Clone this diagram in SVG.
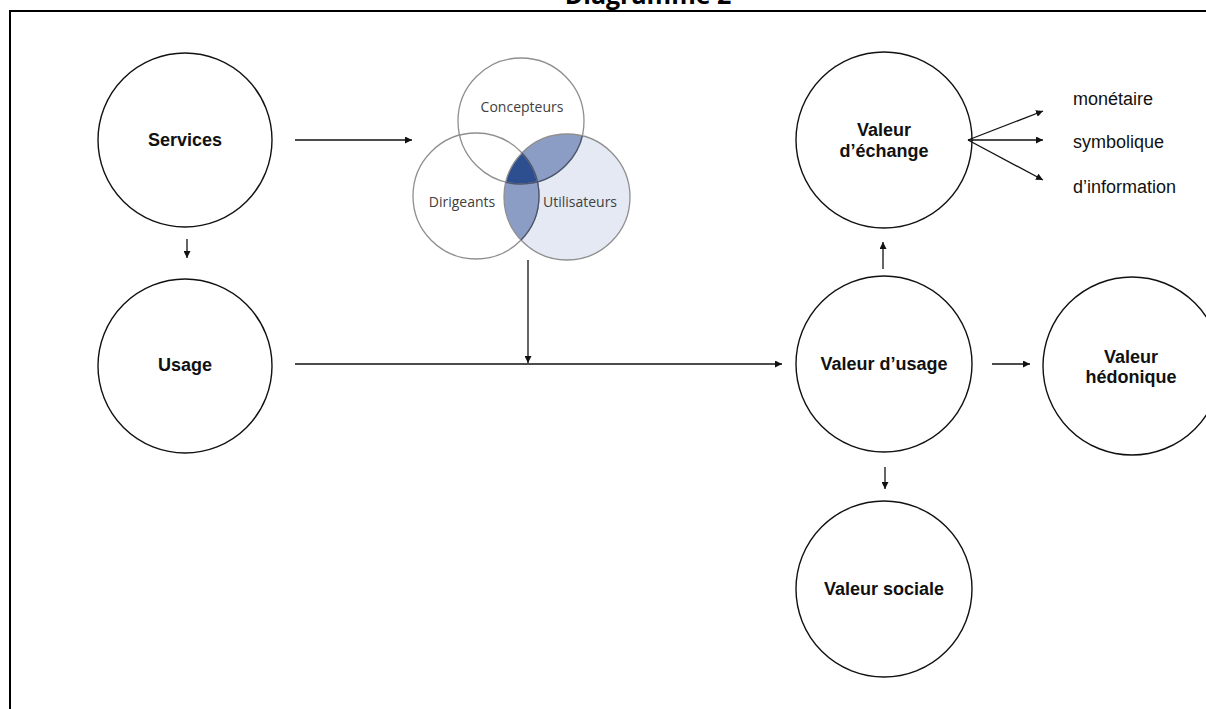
<svg xmlns="http://www.w3.org/2000/svg" width="1206" height="709" viewBox="0 0 1206 709">
<style>
.node{fill:#fff;stroke:#111;stroke-width:1.4}
.lbl{font-family:"Liberation Sans",Arial,sans-serif;font-weight:bold;font-size:18px;fill:#111;text-anchor:middle}
.txt{font-family:"Liberation Sans",Arial,sans-serif;font-size:18px;fill:#111}
.ven{font-family:"Open Sans","Liberation Sans",sans-serif;font-size:14px;fill:#404040;text-anchor:middle}
.con{stroke:#111;stroke-width:1.3;fill:none}
.vc{fill:none;stroke:#8f8f8f;stroke-width:1.3}
</style>
<defs>
<marker id="ah" viewBox="0 0 10 10" refX="10" refY="5" markerWidth="7" markerHeight="7" markerUnits="userSpaceOnUse" orient="auto">
<path d="M0,0 L10,5 L0,10 z" fill="#111"/>
</marker>
<clipPath id="cU"><circle cx="567" cy="197" r="63"/></clipPath>
<clipPath id="cD"><circle cx="476" cy="196" r="63"/></clipPath>
</defs>
<rect width="1206" height="709" fill="#fff"/>
<g id="frame">
<line x1="9" y1="11" x2="1206" y2="11" stroke="#000" stroke-width="2"/>
<line x1="10" y1="10" x2="10" y2="709" stroke="#000" stroke-width="2"/>
<text x="648" y="4" font-family="'Open Sans','Liberation Sans',sans-serif" font-weight="bold" font-size="25" text-anchor="middle" fill="#000">Diagramme 2</text>
</g>
<g id="services"><circle class="node" cx="185" cy="140" r="87"/><text class="lbl" x="185" y="146">Services</text></g>
<g id="usage"><circle class="node" cx="185" cy="366" r="87"/><text class="lbl" x="185" y="371">Usage</text></g>
<g id="venn">
<circle cx="567" cy="197" r="63" fill="#e4e9f3"/>
<g clip-path="url(#cU)">
<circle cx="521" cy="121" r="63" fill="#8c9dc5"/>
<circle cx="476" cy="196" r="63" fill="#8c9dc5"/>
<g clip-path="url(#cD)"><circle cx="521" cy="121" r="63" fill="#2d4f90"/></g>
</g>
<circle class="vc" cx="521" cy="121" r="63"/>
<circle class="vc" cx="476" cy="196" r="63"/>
<circle class="vc" cx="567" cy="197" r="63"/>
<g clip-path="url(#cU)" fill="none" stroke="#4a5673" stroke-width="1.3">
<circle cx="521" cy="121" r="63"/>
<circle cx="476" cy="196" r="63"/>
</g>
<text class="ven" x="522" y="112">Concepteurs</text>
<text class="ven" x="462" y="207">Dirigeants</text>
<text class="ven" x="580" y="207">Utilisateurs</text>
</g>
<g id="echange"><circle class="node" cx="884" cy="140" r="88"/><text class="lbl" x="884" y="136">Valeur</text><text class="lbl" x="884" y="157">d’échange</text></g>
<g id="vusage"><circle class="node" cx="884" cy="364" r="88"/><text class="lbl" x="884" y="370">Valeur d’usage</text></g>
<g id="hedonique"><circle class="node" cx="1132" cy="366" r="89"/><text class="lbl" x="1131" y="363">Valeur</text><text class="lbl" x="1131" y="383">hédonique</text></g>
<g id="sociale"><circle class="node" cx="884" cy="589" r="88"/><text class="lbl" x="884" y="595">Valeur sociale</text></g>
<g id="labels">
<text class="txt" x="1073" y="105">monétaire</text>
<text class="txt" x="1073" y="148">symbolique</text>
<text class="txt" x="1073" y="193">d’information</text>
</g>
<g id="connectors">
<line class="con" x1="295" y1="140" x2="412" y2="140" marker-end="url(#ah)"/>
<line class="con" x1="187" y1="239" x2="187" y2="258" marker-end="url(#ah)"/>
<line class="con" x1="295" y1="364" x2="782" y2="364" marker-end="url(#ah)"/>
<line class="con" x1="528" y1="260" x2="528" y2="363" marker-end="url(#ah)"/>
<line class="con" x1="883" y1="269" x2="883" y2="242" marker-end="url(#ah)"/>
<line class="con" x1="885" y1="467" x2="885" y2="489" marker-end="url(#ah)"/>
<line class="con" x1="992" y1="364" x2="1030" y2="364" marker-end="url(#ah)"/>
<line class="con" x1="968" y1="140" x2="1043" y2="111" marker-end="url(#ah)"/>
<line class="con" x1="968" y1="140" x2="1043" y2="140" marker-end="url(#ah)"/>
<line class="con" x1="968" y1="140" x2="1043" y2="180" marker-end="url(#ah)"/>
</g>
</svg>
